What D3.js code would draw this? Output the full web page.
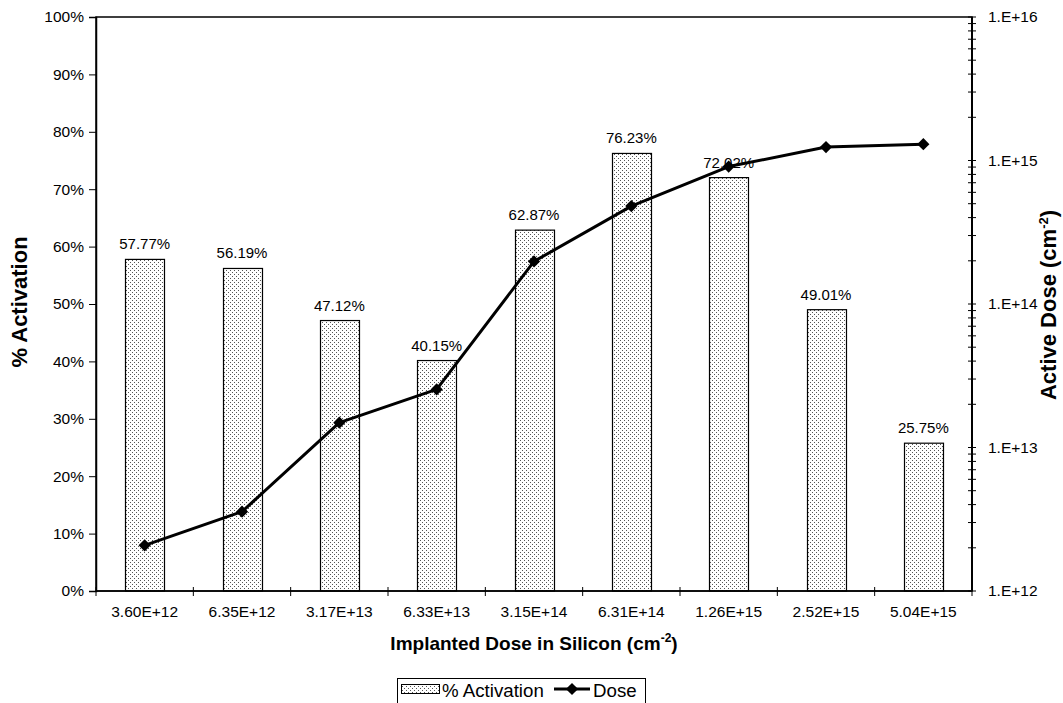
<!DOCTYPE html>
<html><head><meta charset="utf-8">
<script src="https://cdn.jsdelivr.net/npm/d3@7"></script>
<style>body{margin:0;background:#fff}svg{display:block;font-family:"Liberation Sans",Arial,sans-serif}</style>
</head><body>
<svg id="c" width="1063" height="703"></svg>
<script>
const categories = ["3.60E+12","6.35E+12","3.17E+13","6.33E+13","3.15E+14","6.31E+14","1.26E+15","2.52E+15","5.04E+15"];
const activation = [57.77,56.19,47.12,40.15,62.87,76.23,72.02,49.01,25.75];
const dose = [2.08e12,3.57e12,1.49e13,2.54e13,1.98e14,4.81e14,9.07e14,1.24e15,1.30e15];
const leftTicks = [0,10,20,30,40,50,60,70,80,90,100];
const rightTicks = [1e12,1e13,1e14,1e15,1e16];
const rightTickLabels = ["1.E+12","1.E+13","1.E+14","1.E+15","1.E+16"];

const FS = 15.5, TFS = 19, VTFS = 22;
const svg = d3.select("#c");
const L=96,R=972,T=17,B=591;
const x = d3.scaleBand().domain(categories).range([L,R]).paddingInner(0.6).paddingOuter(0.3);
const xb = d3.scaleBand().domain(categories).range([L,R]);
const y = d3.scaleLinear().domain([0,100]).range([B,T]);
const y2 = d3.scaleLog().domain([1e12,1e16]).range([B,T]);

const defs = svg.append("defs");
const pat = defs.append("pattern").attr("id","dots").attr("patternUnits","userSpaceOnUse").attr("width",4).attr("height",4);
pat.append("rect").attr("width",4).attr("height",4).attr("fill","#fff");
pat.append("rect").attr("x",0).attr("y",0).attr("width",1).attr("height",1).attr("fill","#555");
pat.append("rect").attr("x",2).attr("y",2).attr("width",1).attr("height",1).attr("fill","#555");

// bars
svg.append("g").selectAll("rect").data(activation).join("rect")
  .attr("x",(d,i)=>Math.round(x(categories[i]))+0.5)
  .attr("y",d=>y(d))
  .attr("width",Math.round(x.bandwidth()))
  .attr("height",d=>B-y(d))
  .attr("fill","url(#dots)").attr("stroke","#000").attr("stroke-width",1.2);

// data labels
svg.append("g").selectAll("text").data(activation).join("text")
  .attr("x",(d,i)=>x(categories[i])+x.bandwidth()/2)
  .attr("y",d=>y(d)-10)
  .attr("text-anchor","middle").attr("font-size",15).attr("fill","#000")
  .text(d=>d.toFixed(2)+"%");

// frame
svg.append("rect").attr("x",L).attr("y",T).attr("width",R-L).attr("height",B-T)
  .attr("fill","none").attr("stroke","#000").attr("stroke-width",1.5);

// left axis
const la = svg.append("g").attr("transform",`translate(${L},0)`)
  .call(d3.axisLeft(y).tickValues(leftTicks).tickFormat(d=>d+"%").tickSize(7).tickPadding(5));
la.select(".domain").attr("stroke","#000").attr("stroke-width",1.5);
la.selectAll("text").attr("font-size",FS).attr("font-family","Liberation Sans, Arial, sans-serif").attr("fill","#000");

// right axis (log), major + minor ticks crossing
const minor=[];
for(let e=12;e<16;e++) for(let m=2;m<=9;m++) minor.push(m*Math.pow(10,e));
const rg = svg.append("g").attr("transform",`translate(${R},0)`);
rg.append("line").attr("y1",T).attr("y2",B).attr("stroke","#000").attr("stroke-width",2);
rg.selectAll("line.mn").data(minor.concat(rightTicks)).join("line").attr("class","mn")
  .attr("x1",-4).attr("x2",4).attr("y1",d=>y2(d)).attr("y2",d=>y2(d)).attr("stroke","#000").attr("stroke-width",1);
rg.selectAll("text").data(rightTicks).join("text")
  .attr("x",16).attr("y",d=>y2(d)).attr("dy","0.35em").attr("font-size",FS)
  .text((d,i)=>rightTickLabels[i]);

// bottom axis
const bg = svg.append("g").attr("transform",`translate(0,${B})`);
bg.append("line").attr("x1",L).attr("x2",R).attr("stroke","#000").attr("stroke-width",1.5);
const bounds = categories.map(c=>xb(c)).concat([R]);
bg.selectAll("line.t").data(bounds).join("line").attr("class","t")
  .attr("x1",d=>d).attr("x2",d=>d).attr("y1",-4).attr("y2",5).attr("stroke","#000");
bg.selectAll("text").data(categories).join("text")
  .attr("x",c=>xb(c)+xb.bandwidth()/2).attr("y",26).attr("text-anchor","middle").attr("font-size",FS).text(c=>c);

// line
const line = d3.line().x((d,i)=>xb(categories[i])+xb.bandwidth()/2).y(d=>y2(d));
svg.append("path").datum(dose).attr("d",line).attr("fill","none").attr("stroke","#000").attr("stroke-width",3).attr("stroke-linejoin","round");
const diamond = d3.symbol().type(d3.symbolDiamond2).size(95);
svg.append("g").selectAll("path").data(dose).join("path")
  .attr("transform",(d,i)=>`translate(${xb(categories[i])+xb.bandwidth()/2},${y2(d)})`)
  .attr("d",diamond).attr("fill","#000");

// axis titles
svg.append("text").attr("transform","translate(27,302) rotate(-90)").attr("text-anchor","middle")
  .attr("font-size",VTFS).attr("font-weight","bold").text("% Activation");
const rt = svg.append("text").attr("transform","translate(1056,305) rotate(-90)").attr("text-anchor","middle")
  .attr("font-size",VTFS).attr("font-weight","bold");
rt.append("tspan").text("Active Dose (cm");
rt.append("tspan").attr("dy",-8).attr("font-size",13).text("-2");
rt.append("tspan").attr("dy",8).text(")");
const xt = svg.append("text").attr("x",534).attr("y",650).attr("text-anchor","middle").attr("font-size",TFS).attr("font-weight","bold");
xt.append("tspan").text("Implanted Dose in Silicon (cm");
xt.append("tspan").attr("dy",-8).attr("font-size",12).text("-2");
xt.append("tspan").attr("dy",8).text(")");

// legend
const lg = svg.append("g");
lg.append("rect").attr("x",397.5).attr("y",678.5).attr("width",248).attr("height",30).attr("fill","#fff").attr("stroke","#000");
lg.append("rect").attr("x",401.5).attr("y",684.5).attr("width",38).attr("height",9).attr("fill","url(#dots)").attr("stroke","#000");
lg.append("text").attr("x",442).attr("y",697).attr("font-size",18.7).text("% Activation");
lg.append("line").attr("x1",554).attr("x2",590).attr("y1",689).attr("y2",689).attr("stroke","#000").attr("stroke-width",3);
lg.append("path").attr("transform","translate(572,689)").attr("d",diamond).attr("fill","#000");
lg.append("text").attr("x",593).attr("y",697).attr("font-size",18.7).text("Dose");
</script>
</body></html>
